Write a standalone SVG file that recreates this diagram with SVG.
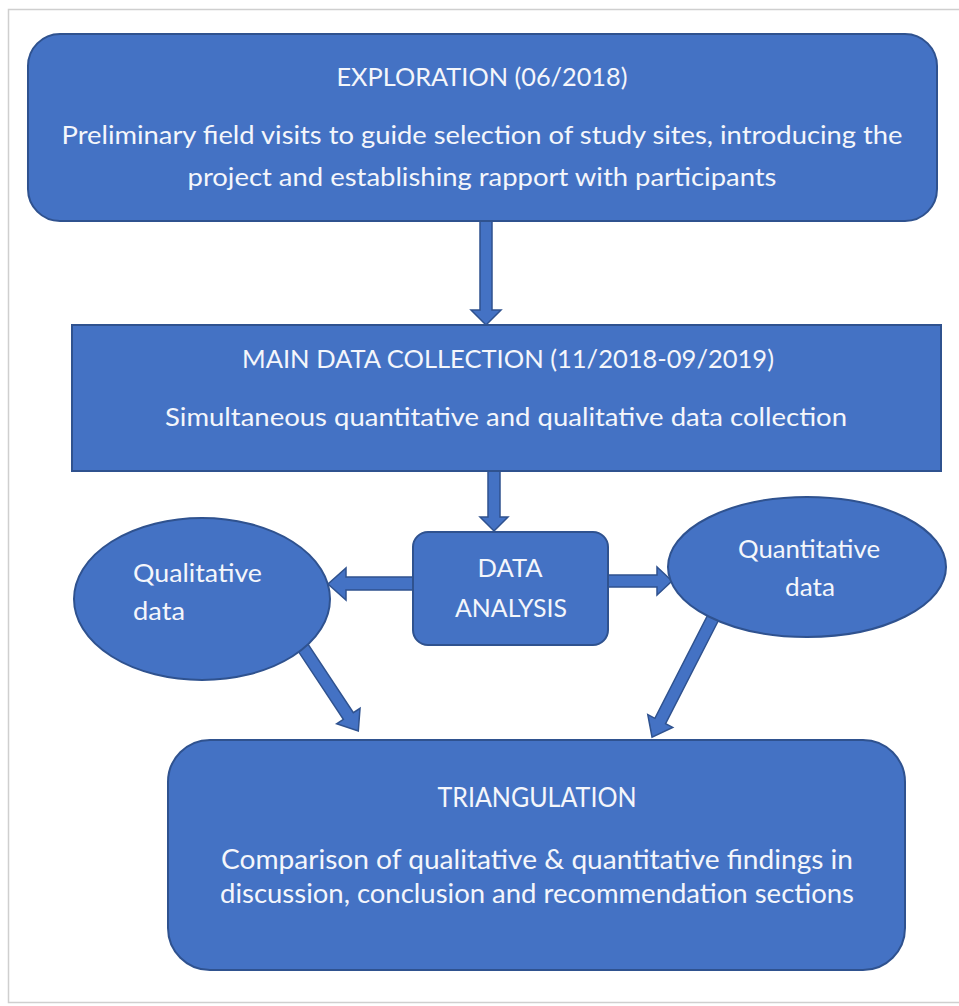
<svg xmlns="http://www.w3.org/2000/svg" width="959" height="1006" viewBox="0 0 959 1006">
<style>
.shape{fill:#4472c4;stroke:#2f528f;stroke-width:2}
.arrow{fill:#4472c4;stroke:#2f528f;stroke-width:1.5}
.t{font-family:Lato,"Open Sans","Liberation Sans",sans-serif;fill:#f4f6fb;font-size:24.5px}
.b{font-size:26px}
.c{text-anchor:middle}
</style>
<rect x="0" y="0" width="959" height="1006" fill="#ffffff"/>
<rect x="8.5" y="9.5" width="960" height="993" fill="none" stroke="#cfcfcf" stroke-width="1.5"/>
<g id="connectors">
  <polygon class="arrow" points="480,221 492,221 492,310 501,310 486,325 471,310 480,310"/>
  <polygon class="arrow" points="488,471 500,471 500,517 508,517 494,531 480,517 488,517"/>
  <polygon class="arrow" points="413,577 346,577 346,568 328,584 346,600 346,590 413,590"/>
  <polygon class="arrow" points="608,575 657,575 657,567 672,581 657,595 657,587 608,587"/>
  <polygon class="arrow" transform="translate(302,646) rotate(56.5)" points="0,-6 84,-6 84,-14 102,0 84,14 84,6 0,6"/>
  <polygon class="arrow" transform="translate(714,616) rotate(117.1)" points="0,-6 118,-6 118,-14 136,0 118,14 118,6 0,6"/>
</g>
<g id="exploration">
  <rect class="shape" x="28" y="34" width="909" height="187" rx="32" ry="32"/>
  <text class="t c" x="482" y="86" textLength="291" lengthAdjust="spacingAndGlyphs">EXPLORATION (06/2018)</text>
  <text class="t c" x="482" y="144" textLength="841" lengthAdjust="spacingAndGlyphs">Preliminary field visits to guide selection of study sites, introducing the</text>
  <text class="t c" x="482" y="186" textLength="589" lengthAdjust="spacingAndGlyphs">project and establishing rapport with participants</text>
</g>
<g id="main-data-collection">
  <rect class="shape" x="72" y="325" width="869" height="146"/>
  <text class="t c" x="508" y="368" textLength="532" lengthAdjust="spacingAndGlyphs">MAIN DATA COLLECTION (11/2018-09/2019)</text>
  <text class="t c" x="506" y="426" textLength="682" lengthAdjust="spacingAndGlyphs">Simultaneous quantitative and qualitative data collection</text>
</g>
<g id="data-analysis">
  <rect class="shape" x="413" y="532" width="195" height="113" rx="15" ry="15"/>
  <text class="t c" x="510" y="577" textLength="65" lengthAdjust="spacingAndGlyphs">DATA</text>
  <text class="t c" x="511" y="617" textLength="112" lengthAdjust="spacingAndGlyphs">ANALYSIS</text>
</g>
<g id="qualitative-data">
  <ellipse class="shape" cx="202" cy="599" rx="128" ry="81"/>
  <text class="t" x="133" y="582" textLength="129" lengthAdjust="spacingAndGlyphs">Qualitative</text>
  <text class="t" x="133" y="620" textLength="52" lengthAdjust="spacingAndGlyphs">data</text>
</g>
<g id="quantitative-data">
  <ellipse class="shape" cx="807" cy="567" rx="139" ry="70"/>
  <text class="t c" x="809" y="558" textLength="142" lengthAdjust="spacingAndGlyphs">Quantitative</text>
  <text class="t c" x="810" y="596" textLength="50" lengthAdjust="spacingAndGlyphs">data</text>
</g>
<g id="triangulation">
  <rect class="shape" x="168" y="740" width="737" height="230" rx="42" ry="42"/>
  <text class="t b c" x="537" y="807" textLength="199" lengthAdjust="spacingAndGlyphs">TRIANGULATION</text>
  <text class="t b c" x="537" y="869" textLength="632" lengthAdjust="spacingAndGlyphs">Comparison of qualitative &amp; quantitative findings in</text>
  <text class="t b c" x="537" y="903" textLength="634" lengthAdjust="spacingAndGlyphs">discussion, conclusion and recommendation sections</text>
</g>
</svg>
